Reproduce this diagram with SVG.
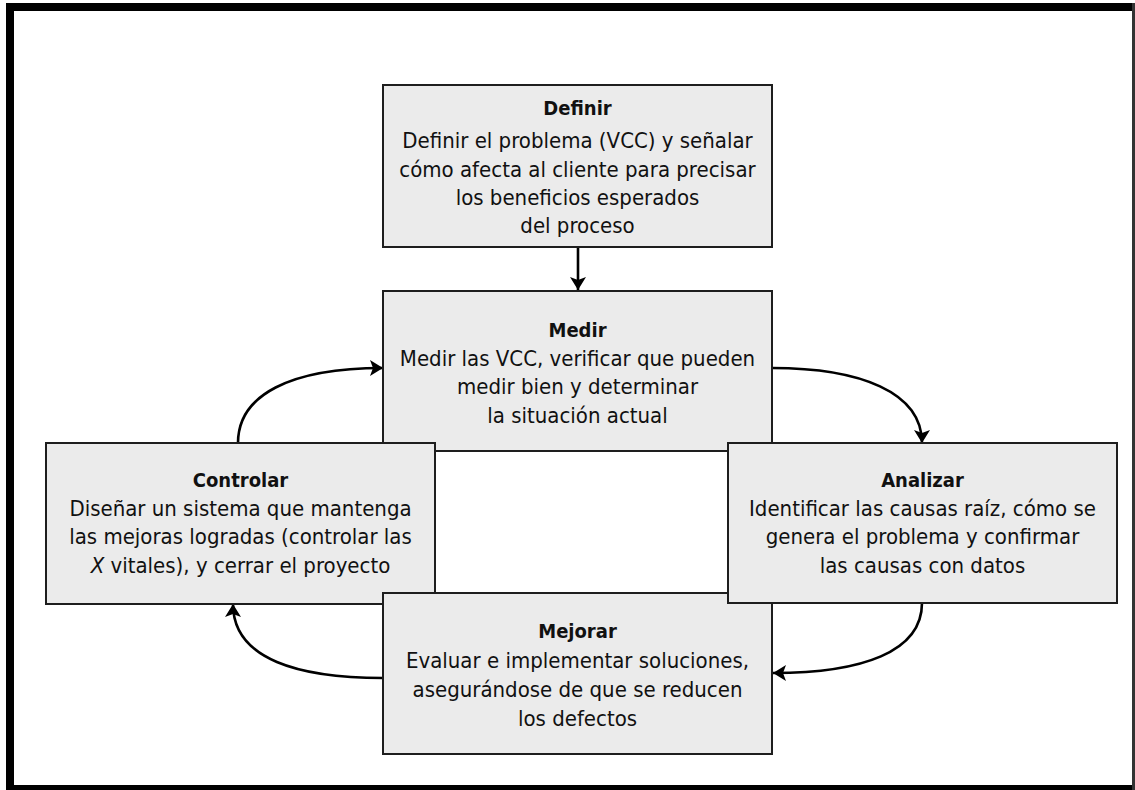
<svg xmlns="http://www.w3.org/2000/svg" width="1135" height="790" viewBox="0 0 1135 790">
  <style>
    .box { fill: #ebebeb; stroke: #1e1e1e; stroke-width: 2; }
    .title { font-family: "Liberation Sans Narrow", "DejaVu Sans Condensed", sans-serif; font-weight: bold; font-size: 20px; fill: #111; text-anchor: middle; }
    .body { font-family: "Liberation Sans Narrow", "DejaVu Sans Condensed", sans-serif; font-size: 22px; fill: #111; text-anchor: middle; }
    .link { fill: none; stroke: #000; stroke-width: 2.6; }
  </style>
  <defs>
    <marker id="head" viewBox="0 0 13 16" refX="13" refY="8" markerWidth="13" markerHeight="16" markerUnits="userSpaceOnUse" orient="auto">
      <path d="M0,0 L13,8 L0,16 L3,8 Z" fill="#000"/>
    </marker>
  </defs>

  <rect width="1135" height="790" fill="#fff"/>

  <!-- outer frame -->
  <g id="frame" fill="#000">
    <rect x="6" y="3" width="1129" height="8"/>
    <rect x="6" y="3" width="8" height="787"/>
    <rect x="6" y="785" width="1129" height="5"/>
    <rect x="1132" y="3" width="3" height="787" fill="#333"/>
  </g>

  <!-- connectors -->
  <g id="connectors">
    <path class="link" d="M578,247 L578,290" marker-end="url(#head)"/>
    <path class="link" d="M772,368 C860,368 922,392 922,443" marker-end="url(#head)"/>
    <path class="link" d="M922,603 C922,652 862,673 773,673" marker-end="url(#head)"/>
    <path class="link" d="M383,678 C300,678 233,660 233,604" marker-end="url(#head)"/>
    <path class="link" d="M238,443 C238,395 290,368 383,368" marker-end="url(#head)"/>
  </g>

  <g id="definir">
    <rect class="box" x="383" y="85" width="389" height="162"/>
    <text class="title" x="577.5" y="115">Definir</text>
    <text class="body" x="577.5" y="148">Definir el problema (VCC) y señalar</text>
    <text class="body" x="577.5" y="177">cómo afecta al cliente para precisar</text>
    <text class="body" x="577.5" y="205">los beneficios esperados</text>
    <text class="body" x="577.5" y="233">del proceso</text>
  </g>

  <g id="medir">
    <rect class="box" x="383" y="291" width="389" height="160"/>
    <text class="title" x="577.5" y="337">Medir</text>
    <text class="body" x="577.5" y="366">Medir las VCC, verificar que pueden</text>
    <text class="body" x="577.5" y="394">medir bien y determinar</text>
    <text class="body" x="577.5" y="423">la situación actual</text>
  </g>

  <g id="controlar">
    <rect class="box" x="46" y="443" width="389" height="161"/>
    <text class="title" x="240.5" y="487">Controlar</text>
    <text class="body" x="240.5" y="516">Diseñar un sistema que mantenga</text>
    <text class="body" x="240.5" y="544">las mejoras logradas (controlar las</text>
    <text class="body" x="240.5" y="573"><tspan font-style="italic">X</tspan> vitales), y cerrar el proyecto</text>
  </g>

  <g id="mejorar">
    <rect class="box" x="383" y="593" width="389" height="161"/>
    <text class="title" x="577.5" y="638">Mejorar</text>
    <text class="body" x="577.5" y="668">Evaluar e implementar soluciones,</text>
    <text class="body" x="577.5" y="697">asegurándose de que se reducen</text>
    <text class="body" x="577.5" y="726">los defectos</text>
  </g>

  <g id="analizar">
    <rect class="box" x="728" y="443" width="389" height="160"/>
    <text class="title" x="922.5" y="487">Analizar</text>
    <text class="body" x="922.5" y="516">Identificar las causas raíz, cómo se</text>
    <text class="body" x="922.5" y="544">genera el problema y confirmar</text>
    <text class="body" x="922.5" y="573">las causas con datos</text>
  </g>
</svg>
